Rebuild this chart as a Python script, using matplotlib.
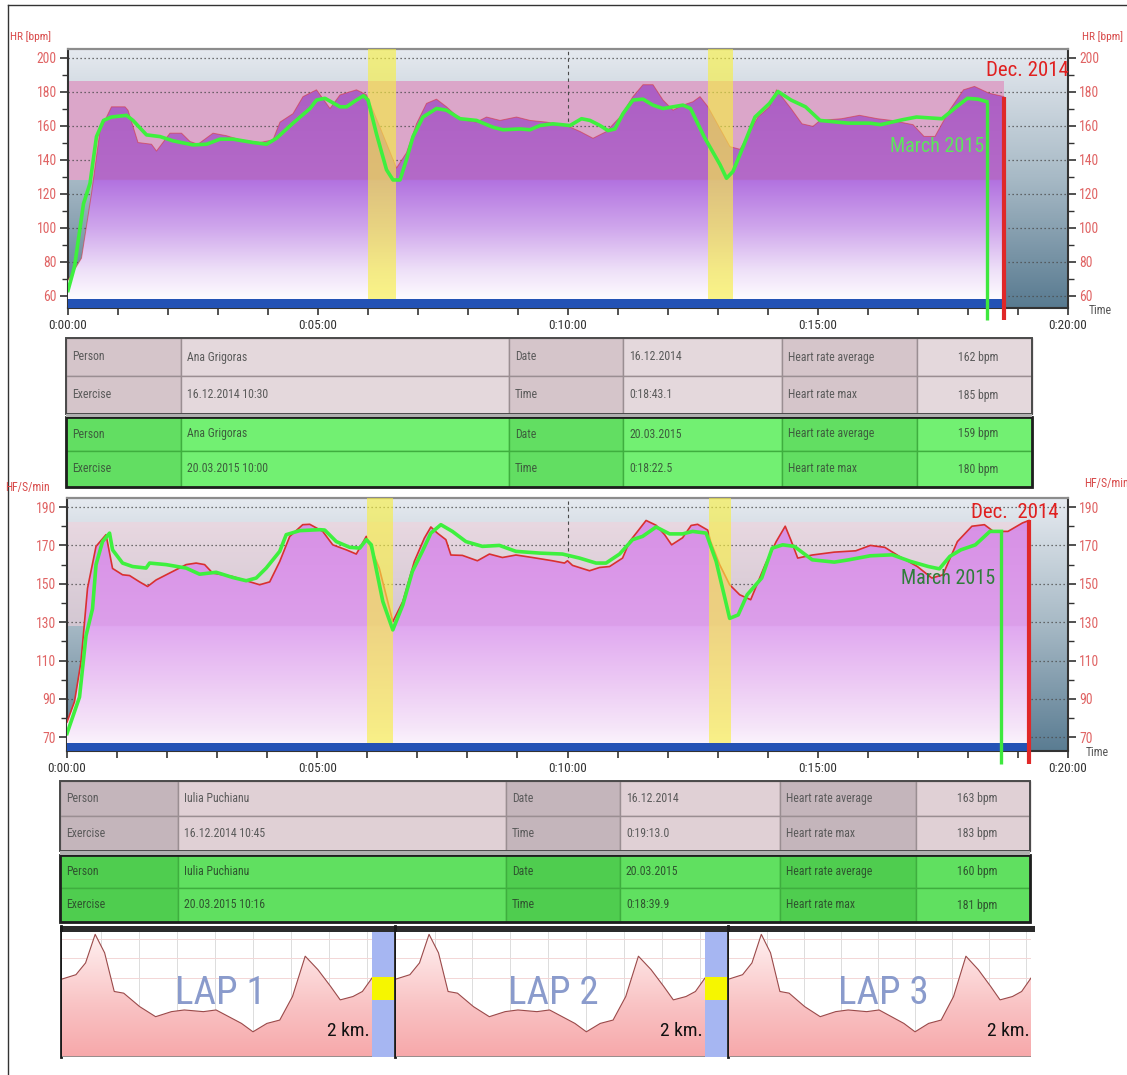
import numpy as np
import matplotlib
matplotlib.use('Agg')
import matplotlib.pyplot as plt
from matplotlib.patches import Polygon, Rectangle
from matplotlib.colors import to_rgb
from matplotlib.ticker import MultipleLocator, FixedLocator
import matplotlib.font_manager as fm

W, H, DPI = 1127, 1075, 100

# ---------------------------------------------------------------- data
time_ticks = [0, 5, 10, 15, 20]
time_labels = ['0:00:00', '0:05:00', '0:10:00', '0:15:00', '0:20:00']

# Ana Grigoras, 16.12.2014 (minutes, bpm)
ana_dec_t = [0.00, 0.27, 0.47, 0.64, 0.87, 1.14, 1.20, 1.40, 1.67, 1.77, 2.04, 2.27, 2.44, 2.60,
             2.90, 3.17, 3.44, 3.84, 4.10, 4.24, 4.50, 4.70, 4.97, 5.24, 5.44, 5.77, 5.97, 6.24,
             6.57, 6.77, 6.97, 7.17, 7.37, 7.57, 7.77, 7.97, 8.17, 8.37, 8.64, 8.97, 9.24, 9.57,
             9.97, 10.24, 10.50, 10.77, 11.04, 11.30, 11.50, 11.70, 11.90, 12.10, 12.30, 12.50,
             12.64, 12.80, 13.24, 13.44, 13.80, 14.03, 14.17, 14.46, 14.68, 14.90, 15.04, 15.47,
             15.83, 16.19, 16.47, 16.90, 17.12, 17.34, 17.63, 17.91, 18.13, 18.42, 18.72]
ana_dec_hr = [69, 82, 120, 157, 171, 171, 169, 150, 149, 145, 155.5, 155.5, 150.6, 149,
              155.5, 154, 151.6, 150, 151.6, 162, 167, 177, 181, 170, 178, 181, 178, 159,
              135, 144, 161, 173, 175.5, 171, 165.7, 163, 162, 165, 163, 165, 163, 162,
              160, 156.5, 152.5, 156.5, 165, 177, 184, 184, 175, 169, 172, 174,
              177, 171, 147.6, 146, 165, 171, 181, 170, 161, 159.5, 163, 164,
              166, 164, 163, 160.5, 153.6, 153.6, 169, 181, 183, 179, 177]

# Ana Grigoras, 20.03.2015
ana_mar_t = [0.00, 0.13, 0.31, 0.44, 0.57, 0.71, 0.87, 1.17, 1.30, 1.57, 1.84, 2.10, 2.50, 2.77,
             3.04, 3.30, 3.70, 3.97, 4.17, 4.50, 4.84, 4.97, 5.14, 5.44, 5.57, 5.77, 5.91, 6.00,
             6.17, 6.37, 6.50, 6.64, 6.77, 6.90, 7.10, 7.37, 7.57, 7.84, 8.17, 8.50, 8.70, 9.04,
             9.24, 9.44, 9.70, 10.04, 10.27, 10.44, 10.64, 10.80, 10.94, 11.10, 11.30, 11.50,
             11.70, 11.90, 12.10, 12.30, 12.45, 12.73, 13.04, 13.17, 13.30, 13.44, 13.74, 14.03,
             14.20, 14.46, 14.75, 15.04, 15.60, 16.04, 16.25, 16.69, 16.97, 17.48, 17.77, 17.99,
             18.20, 18.375]
ana_mar_hr = [63, 77, 114, 126, 153.5, 163, 165, 166, 163, 154.5, 153.5, 151, 148.6, 149,
              152, 152, 150, 149, 152.5, 161.4, 170, 175, 176, 171, 171, 175, 177.5, 175,
              155, 134, 128, 128, 140, 153.5, 165, 170, 169, 164, 163, 159, 157.5, 158,
              157.5, 160, 161, 160, 164, 163, 160, 157, 158, 167, 175, 175.5,
              172, 170, 171, 172, 170, 153, 137, 129, 133, 143, 165, 173,
              180, 175, 171, 163, 161.4, 161.4, 160.5, 163.4, 165, 164, 171, 176,
              175.5, 174]

# Iulia Puchianu, 16.12.2014
iulia_dec_t = [0.00, 0.15, 0.28, 0.41, 0.58, 0.78, 0.91, 1.11, 1.25, 1.45, 1.61, 1.78, 2.11, 2.38,
               2.58, 2.75, 2.91, 3.31, 3.58, 3.85, 4.05, 4.25, 4.45, 4.71, 4.85, 5.11, 5.31, 5.58,
               5.78, 5.98, 6.24, 6.51, 6.71, 6.94, 7.14, 7.27, 7.40, 7.57, 7.67, 7.90, 8.20, 8.44,
               8.70, 8.97, 9.30, 9.70, 9.94, 10.00, 10.10, 10.44, 10.64, 10.84, 11.10, 11.24, 11.40,
               11.57, 11.77, 11.94, 12.08, 12.30, 12.47, 12.60, 12.80, 12.86, 13.04, 13.24, 13.44,
               13.66, 13.95, 14.17, 14.35, 14.46, 14.60, 14.89, 15.33, 15.76, 16.05, 16.34, 16.63,
               16.99, 17.28, 17.50, 17.79, 18.08, 18.33, 18.51, 18.80, 19.09, 19.22]
iulia_dec_hr = [78, 88.6, 109.5, 147.7, 169.5, 175.6, 158, 154.7, 154.3, 151, 148.6, 152, 156.4, 160,
                160.8, 160, 155.6, 153.8, 151.6, 149.5, 151, 161.6, 174.7, 180.8, 181, 177.3, 170.3, 167.7,
                165.5, 174.7, 158, 130.3, 140.8, 161.7, 173.8, 179.6, 176.4, 173, 165, 164.8, 162, 165.5,
                163.7, 165, 163.7, 162, 160.8, 162, 159.6, 156.8, 158.5, 159, 163.4, 172, 177.3,
                183, 180.5, 175.6, 170.3, 174, 180.4, 181, 178, 172, 160, 149.5, 144.3,
                141.7, 160, 172, 180, 173, 163.4, 165, 166.5, 167.2, 170, 169, 164.3,
                159, 153, 154.7, 172, 180, 180.8, 177.3, 177.3, 181.7, 183]

# Iulia Puchianu, 20.03.2015
iulia_mar_t = [0.00, 0.25, 0.38, 0.51, 0.58, 0.71, 0.85, 0.91, 1.11, 1.31, 1.58, 1.65, 1.98, 2.38,
               2.65, 2.98, 3.31, 3.58, 3.78, 3.98, 4.25, 4.38, 4.65, 5.05, 5.15, 5.38, 5.65, 5.85,
               5.98, 6.08, 6.31, 6.51, 6.71, 6.90, 7.10, 7.27, 7.47, 7.70, 7.97, 8.30, 8.64, 8.97,
               9.44, 9.90, 10.24, 10.57, 10.77, 11.04, 11.30, 11.50, 11.77, 12.04, 12.30, 12.50,
               12.77, 12.97, 13.24, 13.41, 13.59, 13.88, 14.09, 14.30, 14.53, 14.89, 15.33, 15.62,
               16.05, 16.49, 16.85, 17.21, 17.43, 17.64, 17.86, 18.15, 18.44, 18.67]
iulia_mar_hr = [72, 91, 123, 137, 160, 172, 176.4, 167.7, 160.8, 159, 158.2, 160.8, 160, 158.2,
                155, 156, 153.3, 151.6, 153, 158.2, 166.9, 175.6, 177.7, 178.2, 178, 172, 169, 168.6,
                173, 170.3, 140.8, 126, 139, 156.4, 166.9, 176.4, 180.8, 177.3, 172, 169.5, 170, 166.9,
                166, 165.5, 163.4, 160.8, 160.8, 165.5, 173, 174.7, 179.6, 176, 176, 177.3,
                176.4, 161.7, 132, 133.8, 144.3, 153, 168.6, 170.3, 169.5, 162.5, 161.3, 162.5,
                164.6, 165.1, 161.7, 159, 157.8, 164.3, 167.7, 170.3, 177.3, 177.3]

# heart-rate zone limits and recovery intervals (minutes)
ana_zone = (128, 186)
iulia_zone = (128, 182)
ana_recovery = [(5.99, 6.56), (12.80, 13.29)]
iulia_recovery = [(5.99, 6.51), (12.82, 13.27)]

# summary tables
table_labels = [['Person', 'Date', 'Heart rate average'], ['Exercise', 'Time', 'Heart rate max']]
ana_rows = [['Ana Grigoras', '16.12.2014', '162 bpm'],
            ['16.12.2014 10:30', '0:18:43.1', '185 bpm'],
            ['Ana Grigoras', '20.03.2015', '159 bpm'],
            ['20.03.2015 10:00', '0:18:22.5', '180 bpm']]
iulia_rows = [['Iulia Puchianu', '16.12.2014', '163 bpm'],
              ['16.12.2014 10:45', '0:19:13.0', '183 bpm'],
              ['Iulia Puchianu', '20.03.2015', '160 bpm'],
              ['20.03.2015 10:16', '0:18:39.9', '181 bpm']]

# lap elevation profile (km, relative elevation)
lap_names = ['LAP 1', 'LAP 2', 'LAP 3']
lap_km = [0, 0.09, 0.152, 0.214, 0.275, 0.337, 0.398, 0.501, 0.604, 0.706, 0.789, 0.912, 0.994,
          1.076, 1.158, 1.232, 1.322, 1.405, 1.487, 1.569, 1.651, 1.733, 1.795, 1.877, 1.938, 2.0]
lap_elev = [232, 245, 280, 365, 310, 195, 190, 150, 120, 135, 140, 135, 140,
            120, 100, 75, 100, 110, 180, 300, 260, 210, 170, 180, 195, 235]

# ---------------------------------------------------------------- fonts
def has_font(name):
    try:
        fm.findfont(fm.FontProperties(family=name), fallback_to_default=False)
        return True
    except Exception:
        return False

NARROW = None
for cand in ['Liberation Sans Narrow', 'Roboto Condensed', 'Open Sans Condensed', 'Noto Sans Condensed']:
    if has_font(cand):
        NARROW = cand
        break
if NARROW is None:
    FAM, K = ['Liberation Sans', 'DejaVu Sans'], 0.84
else:
    FAM, K = [NARROW, 'DejaVu Sans'], 1.0
plt.rcParams['font.family'] = FAM

def fs(x):
    return x * K

# ---------------------------------------------------------------- helpers
fig = plt.figure(figsize=(W / DPI, H / DPI), dpi=DPI)
fig.patch.set_facecolor('white')

def px_axes(x0, y0, x1, y1, **kw):
    return fig.add_axes([x0 / W, 1 - y1 / H, (x1 - x0) / W, (y1 - y0) / H], **kw)

def grad(stops, lo, hi, n=600):
    v = np.linspace(lo, hi, n)
    sv = [s[0] for s in stops]
    cols = np.array([to_rgb(s[1]) for s in stops])
    img = np.stack([np.interp(v, sv, cols[:, k]) for k in range(3)], axis=-1)
    return img[:, None, :]

# background overlay (tables, frame)
ov = px_axes(0, 0, W, H)
ov.set_xlim(0, W)
ov.set_ylim(H, 0)
ov.axis('off')
ov.plot([8, 8], [5, H], color='#333333', lw=1.0)
ov.plot([8, W], [5, 5], color='#333333', lw=1.0)


def hr_chart(box, ylim, ymajor, dec_t, dec_hr, mar_t, mar_hr, zone, zone_col, zone_alpha,
             base_stops, fill_stops, bar_top, recovery, line_bottom, red_lw, red_alpha):
    ax = px_axes(*box)
    ylo, yhi = ylim
    ax.imshow(grad(base_stops, ylo, yhi), extent=[0, 20, ylo, yhi], aspect='auto',
              origin='lower', zorder=0, interpolation='bilinear')
    t_end = dec_t[-1]
    ax.fill_between([0, t_end], zone[0], zone[1], color=zone_col, alpha=zone_alpha, lw=0, zorder=1)
    for y in ymajor:
        ax.axhline(y, color='#4a4a4a', lw=0.9, ls=(0, (1, 2.2)), zorder=2)
    ax.axvline(10, color='#4a4a4a', lw=0.8, ls=(0, (3, 3)), zorder=2)
    verts = list(zip(dec_t, dec_hr)) + [(t_end, ylo), (dec_t[0], ylo)]
    poly = Polygon(verts, closed=True, fc='none', ec='none', zorder=3)
    ax.add_patch(poly)
    im = ax.imshow(grad(fill_stops, ylo, yhi), extent=[0, 20, ylo, yhi], aspect='auto',
                   origin='lower', zorder=3, interpolation='bilinear')
    im.set_clip_path(poly)
    ax.plot(dec_t, dec_hr, color='#d93030', lw=red_lw, alpha=red_alpha, zorder=4)
    ax.fill_between([0, t_end], ylo, bar_top, color='#2352b5', lw=0, zorder=4)
    for a, b in recovery:
        ax.fill_between([a, b], bar_top, yhi, color='#f8f040', alpha=0.62, lw=0, zorder=5)
    ax.plot(mar_t, mar_hr, color='#3ef03e', lw=2.6, zorder=6, solid_joinstyle='round')
    ax.plot([t_end, t_end], [dec_hr[-1], line_bottom], color='#e02828', lw=3.0,
            clip_on=False, zorder=7, solid_capstyle='butt')
    ax.plot([mar_t[-1], mar_t[-1]], [mar_hr[-1], line_bottom], color='#3ee83e', lw=2.4,
            clip_on=False, zorder=7, solid_capstyle='butt')
    ax.set_xlim(0, 20)
    ax.set_ylim(ylo, yhi)
    ax.xaxis.set_major_locator(FixedLocator(time_ticks))
    ax.set_xticklabels(time_labels)
    ax.xaxis.set_minor_locator(MultipleLocator(1))
    ax.yaxis.set_major_locator(FixedLocator(ymajor))
    ax.yaxis.set_minor_locator(MultipleLocator(10))
    ax.tick_params(axis='y', which='both', left=True, right=True, labelleft=True,
                   labelright=True, direction='out', color='#333333', labelcolor='#e06464',
                   labelsize=fs(9.8), pad=2)
    ax.tick_params(axis='y', which='major', length=6, width=1.2)
    ax.tick_params(axis='y', which='minor', length=4, width=1.0)
    ax.tick_params(axis='x', which='both', direction='out', color='#333333', width=1.2)
    ax.tick_params(axis='x', which='major', length=5, labelsize=fs(9.5), labelcolor='#333333', pad=3)
    ax.tick_params(axis='x', which='minor', length=5)
    for s in ['left', 'right', 'bottom']:
        ax.spines[s].set_color('#333333')
        ax.spines[s].set_linewidth(1.5)
    ax.spines['top'].set_color('#8c8c8c')
    ax.spines['top'].set_linewidth(1.6)
    return ax

ax_top = hr_chart((68, 49, 1068, 308), (52.7, 205), [60, 80, 100, 120, 140, 160, 180, 200],
                  ana_dec_t, ana_dec_hr, ana_mar_t, ana_mar_hr, ana_zone, '#dba6c9', 1.0,
                  [(52.7, '#587a90'), (130, '#a8bac6'), (205, '#e6eaf0')],
                  [(52.7, '#ffffff'), (60, '#fcf8fe'), (75, '#eee0f8'), (100, '#cfa6ec'),
                   (127.9, '#b272e0'), (128.1, '#b46ac8'), (186, '#ac5ec4'), (205, '#a858c0')],
                  58, ana_recovery, 45.7, 0.7, 0.55)

ax_bot = hr_chart((67, 498, 1068, 751), (62.9, 194.7), [70, 90, 110, 130, 150, 170, 190],
                  iulia_dec_t, iulia_dec_hr, iulia_mar_t, iulia_mar_hr, iulia_zone, '#f2d2dc', 0.6,
                  [(62.9, '#5a7c92'), (130, '#a8bac6'), (194.7, '#e6eaf0')],
                  [(62.9, '#fdf9fe'), (75, '#f6e6f9'), (100, '#ecc8f4'), (127.9, '#e0a8f0'),
                   (128.1, '#dc9fea'), (160, '#da96e8'), (194.7, '#d68ee4')],
                  67, iulia_recovery, 56, 1.2, 1.0)

# ---------------------------------------------------------------- tables
def draw_table(xs, row_y, rows, pink_lab, pink_val, green_lab, green_val, green_txt):
    for r in range(4):
        y0, y1 = row_y[r]
        green = r >= 2
        cells = [table_labels[r % 2][0], rows[r][0], table_labels[r % 2][1], rows[r][1],
                 table_labels[r % 2][2], rows[r][2]]
        for c in range(6):
            x0, x1 = xs[c], xs[c + 1]
            is_lab = c in (0, 2, 4)
            if green:
                fc = green_lab if is_lab else green_val
                ec = '#3fae3f'
                tc = green_txt
            else:
                fc = pink_lab if is_lab else pink_val
                ec = '#9a8e92'
                tc = '#5a5a5a'
            ov.add_patch(Rectangle((x0, y0), x1 - x0, y1 - y0, fc=fc, ec=ec, lw=1.0))
            if c == 5:
                ov.text((x0 + x1) / 2 + 4, (y0 + y1) / 2, cells[c], ha='center', va='center',
                        fontsize=fs(8.5), color=tc)
            else:
                ov.text(x0 + 6, (y0 + y1) / 2, cells[c], ha='left', va='center',
                        fontsize=fs(8.5), color=tc)
    ov.add_patch(Rectangle((xs[0], row_y[0][0]), xs[-1] - xs[0], row_y[1][1] - row_y[0][0],
                           fc='none', ec='#4a4a4a', lw=1.4))
    ov.add_patch(Rectangle((xs[0], row_y[2][0]), xs[-1] - xs[0], row_y[3][1] - row_y[2][0],
                           fc='none', ec='#1e1e1e', lw=2.0))
    ov.add_patch(Rectangle((xs[0], row_y[1][1]), xs[-1] - xs[0], row_y[2][0] - row_y[1][1],
                           fc='#b0b0b0', ec='none'))

draw_table([66, 181, 509, 623, 782, 917, 1032], [(338, 376), (376, 414), (417, 451), (451, 487)],
           ana_rows, '#d5c5ca', '#e4d8dc', '#62de62', '#72f072', '#3d5e3d')
draw_table([60, 178, 506, 620, 780, 916, 1030], [(781, 816), (816, 851), (855, 888), (888, 922)],
           iulia_rows, '#c4b5bb', '#e0d0d5', '#4fcd4f', '#60e060', '#2f542f')

# ---------------------------------------------------------------- lap strip
ov.add_patch(Rectangle((60, 926), 975, 6, fc='#2b2b2b', ec='none'))
for (x0, x1) in [(372, 394), (705, 727)]:
    ov.add_patch(Rectangle((x0, 932), x1 - x0, 125, fc='#a6b6f2', ec='none'))
    ov.add_patch(Rectangle((x0, 977), x1 - x0, 23, fc='#f6f600', ec='none'))
for x in [61, 395, 728]:
    ov.plot([x, x], [926, 1057], color='#1a1a1a', lw=2.0)

lap_boxes = [(62, 932, 372, 1057), (396, 932, 705, 1057), (729, 932, 1031, 1057)]
for name, box in zip(lap_names, lap_boxes):
    la = px_axes(*box)
    la.set_xlim(0, 2)
    la.set_ylim(0, 372)
    la.set_facecolor('white')
    la.set_xticks(np.arange(0.25, 2.0, 0.245))
    la.set_yticks([235, 295, 350])
    la.grid(axis='x', color='#dcdcdc', lw=0.7)
    la.grid(axis='y', color='#f3d6d6', lw=0.7)
    la.tick_params(length=0, labelleft=False, labelbottom=False)
    for s in la.spines.values():
        s.set_visible(False)
    verts = list(zip(lap_km, lap_elev)) + [(lap_km[-1], 0), (lap_km[0], 0)]
    poly = Polygon(verts, closed=True, fc='none', ec='none')
    la.add_patch(poly)
    im = la.imshow(grad([(0, '#f7a8aa'), (150, '#f9c2c3'), (372, '#fff2f2')], 0, 372),
                   extent=[0, 2, 0, 372], aspect='auto', origin='lower', zorder=2,
                   interpolation='bilinear')
    im.set_clip_path(poly)
    la.plot(lap_km, lap_elev, color='#9a4a4a', lw=0.8, zorder=3)
    la.set_xlim(0, 2)
    la.set_ylim(0, 372)
    la.axhline(1, color='#888888', lw=1.2, zorder=4)
    la.text(0.51, 0.51, name, transform=la.transAxes, ha='center', va='center',
            fontsize=fs(28), color='#8a9bcc', zorder=5)
    la.text(0.925, 0.21, '2 km.', transform=la.transAxes, ha='center', va='center',
            fontsize=fs(14), color='#111111', zorder=5)

# ---------------------------------------------------------------- annotations (foreground)
fg = px_axes(0, 0, W, H)
fg.set_xlim(0, W)
fg.set_ylim(H, 0)
fg.axis('off')
fg.patch.set_visible(False)
lab_c = '#d84a4a'
fg.text(30, 37, 'HR [bpm]', ha='center', va='center', fontsize=fs(8.2), color=lab_c)
fg.text(1103, 37, 'HR [bpm]', ha='center', va='center', fontsize=fs(8.2), color=lab_c)
fg.text(27, 488, 'HF/S/min', ha='center', va='center', fontsize=fs(8.4), color=lab_c)
fg.text(1106, 484, 'HF/S/min', ha='center', va='center', fontsize=fs(8.4), color=lab_c)
fg.text(1100, 311, 'Time', ha='center', va='center', fontsize=fs(8.5), color='#555555')
fg.text(1097, 752, 'Time', ha='center', va='center', fontsize=fs(8.5), color='#555555')
fg.text(1027, 70, 'Dec. 2014', ha='center', va='center', fontsize=fs(15), color='#e02020')
fg.text(1015, 512, 'Dec.  2014', ha='center', va='center', fontsize=fs(15), color='#e02020')
fg.text(937, 147, 'March 2015', ha='center', va='center', fontsize=fs(14.5), color='#5ce65c')
fg.text(948, 578, 'March 2015', ha='center', va='center', fontsize=fs(14.5), color='#2e7d3a')

fig.savefig('out.png', dpi=DPI, facecolor='white')
